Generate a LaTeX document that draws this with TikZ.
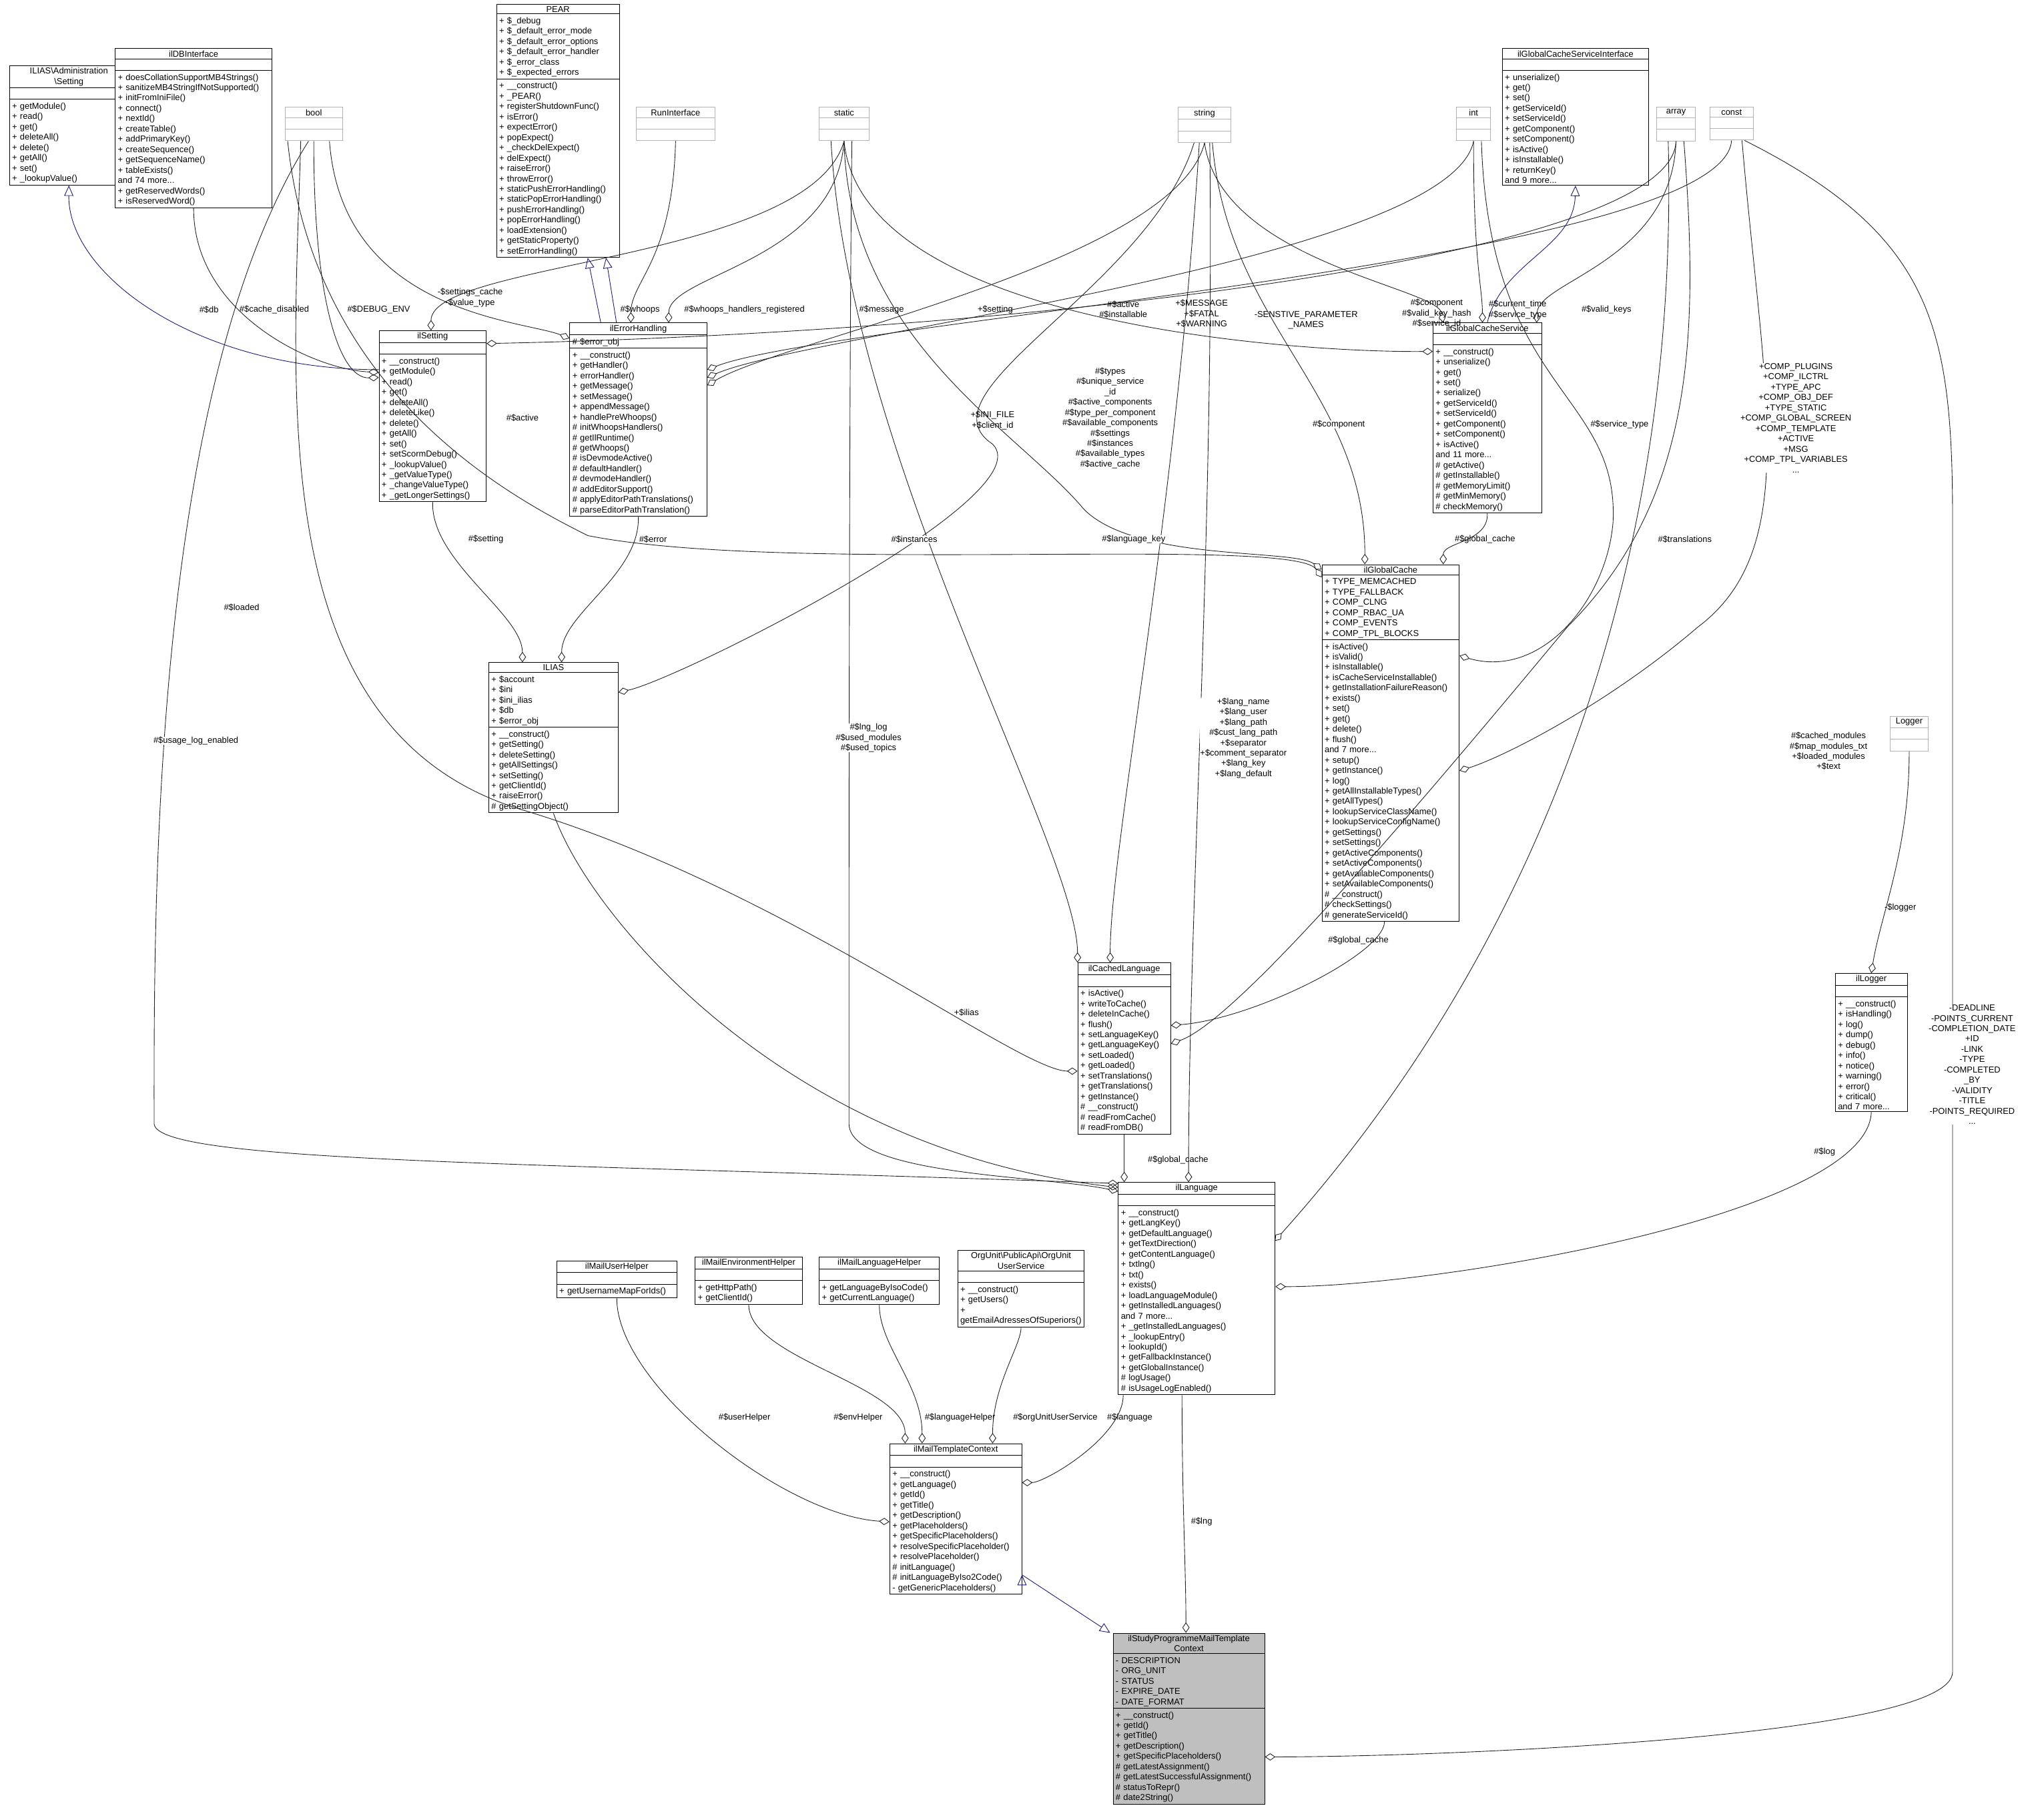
\documentclass[tikz,border=0pt]{standalone}
\usepackage{fontspec}
\setmainfont{Liberation Sans}
\usetikzlibrary{shapes.multipart,arrows.meta}
\definecolor{navy}{RGB}{25,25,112}
\tikzset{
  cls/.style={draw=black,rectangle split,rectangle split parts=3,anchor=north west,inner xsep=2pt,inner ysep=1.2pt,font=\fontsize{6.6}{7.9}\selectfont,fill=white,line width=0.5pt},
  gcls/.style={cls,draw=gray!60},
  hl/.style={cls,fill=gray!50},
  agg/.style={draw=gray!25!black,line width=0.45pt,-{Diamond[open,length=8pt,width=5.5pt]}},
  inh/.style={draw=navy,line width=0.45pt,-{Triangle[open,length=8pt,width=7pt]}},
  lbl/.style={font=\fontsize{6.6}{7.9}\selectfont,align=center,inner sep=0pt}
}
\newcommand\cls[8][cls]{\node[#1,text width=#4pt-4pt] (#2) at (#3) {\centering #5\par\nodepart{two}\raggedright\rule{0pt}{6pt}#6\par\nodepart{three}\raggedright\rule{0pt}{6pt}#7\par};}
\begin{document}
\begin{tikzpicture}[x=1pt,y=-1pt]
\useasboundingbox (0,0) rectangle (1565,1390);
% classes
\cls{adm}{7,50}{91}{ILIAS\textbackslash Administration\\\textbackslash Setting}{}{+ getModule()\\+ read()\\+ get()\\+ deleteAll()\\+ delete()\\+ getAll()\\+ set()\\+ \_lookupValue()}{}
\cls{db}{88,37}{120}{ilDBInterface}{}{+ doesCollationSupportMB4Strings()\\+ sanitizeMB4StringIfNotSupported()\\+ initFromIniFile()\\+ connect()\\+ nextId()\\+ createTable()\\+ addPrimaryKey()\\+ createSequence()\\+ getSequenceName()\\+ tableExists()\\and 74 more...\\+ getReservedWords()\\+ isReservedWord()}{}
\cls[gcls]{bool}{218,82}{44}{bool}{}{}{}
\cls{pear}{380,3}{94}{PEAR}{+ \$\_debug\\+ \$\_default\_error\_mode\\+ \$\_default\_error\_options\\+ \$\_default\_error\_handler\\+ \$\_error\_class\\+ \$\_expected\_errors}{+ \_\_construct()\\+ \_PEAR()\\+ registerShutdownFunc()\\+ isError()\\+ expectError()\\+ popExpect()\\+ \_checkDelExpect()\\+ delExpect()\\+ raiseError()\\+ throwError()\\+ staticPushErrorHandling()\\+ staticPopErrorHandling()\\+ pushErrorHandling()\\+ popErrorHandling()\\+ loadExtension()\\+ getStaticProperty()\\+ setErrorHandling()}{}
\cls[gcls]{run}{487,82}{60}{RunInterface}{}{}{}
\cls[gcls]{static}{627,82}{38}{static}{}{}{}
\cls[gcls]{string}{902,82}{40}{string}{}{}{}
\cls[gcls]{int}{1115,82}{26}{int}{}{}{}
\cls{gcsi}{1150,37}{112}{ilGlobalCacheServiceInterface}{}{+ unserialize()\\+ get()\\+ set()\\+ getServiceId()\\+ setServiceId()\\+ getComponent()\\+ setComponent()\\+ isActive()\\+ isInstallable()\\+ returnKey()\\and 9 more...}{}
\cls[gcls]{array}{1268,82}{30}{array}{}{}{}
\cls[gcls]{const}{1309,82}{33}{const}{}{}{}
\cls{set}{290,253}{82}{ilSetting}{}{+ \_\_construct()\\+ getModule()\\+ read()\\+ get()\\+ deleteAll()\\+ deleteLike()\\+ delete()\\+ getAll()\\+ set()\\+ setScormDebug()\\+ \_lookupValue()\\+ \_getValueType()\\+ \_changeValueType()\\+ \_getLongerSettings()}{}
\cls{err}{436,247}{105}{ilErrorHandling}{\# \$error\_obj}{+ \_\_construct()\\+ getHandler()\\+ errorHandler()\\+ getMessage()\\+ setMessage()\\+ appendMessage()\\+ handlePreWhoops()\\\# initWhoopsHandlers()\\\# getIlRuntime()\\\# getWhoops()\\\# isDevmodeActive()\\\# defaultHandler()\\\# devmodeHandler()\\\# addEditorSupport()\\\# applyEditorPathTranslations()\\\# parseEditorPathTranslation()}{}
\cls{gcs}{1097,247}{83}{ilGlobalCacheService}{}{+ \_\_construct()\\+ unserialize()\\+ get()\\+ set()\\+ serialize()\\+ getServiceId()\\+ setServiceId()\\+ getComponent()\\+ setComponent()\\+ isActive()\\and 11 more...\\\# getActive()\\\# getInstallable()\\\# getMemoryLimit()\\\# getMinMemory()\\\# checkMemory()}{}
\cls{gc}{1012,432}{105}{ilGlobalCache}{+ TYPE\_MEMCACHED\\+ TYPE\_FALLBACK\\+ COMP\_CLNG\\+ COMP\_RBAC\_UA\\+ COMP\_EVENTS\\+ COMP\_TPL\_BLOCKS}{+ isActive()\\+ isValid()\\+ isInstallable()\\+ isCacheServiceInstallable()\\+ getInstallationFailureReason()\\+ exists()\\+ set()\\+ get()\\+ delete()\\+ flush()\\and 7 more...\\+ setup()\\+ getInstance()\\+ log()\\+ getAllInstallableTypes()\\+ getAllTypes()\\+ lookupServiceClassName()\\+ lookupServiceConfigName()\\+ getSettings()\\+ setSettings()\\+ getActiveComponents()\\+ setActiveComponents()\\+ getAvailableComponents()\\+ setAvailableComponents()\\\# \_\_construct()\\\# checkSettings()\\\# generateServiceId()}{}
\cls{ilias}{374,507}{99}{ILIAS}{+ \$account\\+ \$ini\\+ \$ini\_ilias\\+ \$db\\+ \$error\_obj}{+ \_\_construct()\\+ getSetting()\\+ deleteSetting()\\+ getAllSettings()\\+ setSetting()\\+ getClientId()\\+ raiseError()\\\# getSettingObject()}{}
\cls{cl}{825,737}{71}{ilCachedLanguage}{}{+ isActive()\\+ writeToCache()\\+ deleteInCache()\\+ flush()\\+ setLanguageKey()\\+ getLanguageKey()\\+ setLoaded()\\+ getLoaded()\\+ setTranslations()\\+ getTranslations()\\+ getInstance()\\\# \_\_construct()\\\# readFromCache()\\\# readFromDB()}{}
\cls[gcls]{logger}{1447,548}{29}{Logger}{}{}{}
\cls{ill}{1405,745}{55}{ilLogger}{}{+ \_\_construct()\\+ isHandling()\\+ log()\\+ dump()\\+ debug()\\+ info()\\+ notice()\\+ warning()\\+ error()\\+ critical()\\and 7 more...}{}
\cls{lang}{856,905}{120}{ilLanguage}{}{+ \_\_construct()\\+ getLangKey()\\+ getDefaultLanguage()\\+ getTextDirection()\\+ getContentLanguage()\\+ txtlng()\\+ txt()\\+ exists()\\+ loadLanguageModule()\\+ getInstalledLanguages()\\and 7 more...\\+ \_getInstalledLanguages()\\+ \_lookupEntry()\\+ lookupId()\\+ getFallbackInstance()\\+ getGlobalInstance()\\\# logUsage()\\\# isUsageLogEnabled()}{}
\cls{muh}{426,965}{92}{ilMailUserHelper}{}{+ getUsernameMapForIds()}{}
\cls{meh}{532,962}{82}{ilMailEnvironmentHelper}{}{+ getHttpPath()\\+ getClientId()}{}
\cls{mlh}{627,962}{92}{ilMailLanguageHelper}{}{+ getLanguageByIsoCode()\\+ getCurrentLanguage()}{}
\cls{org}{733,957}{97}{OrgUnit\textbackslash PublicApi\textbackslash OrgUnit\\UserService}{}{+ \_\_construct()\\+ getUsers()\\+ getEmailAdressesOfSuperiors()}{}
\cls{mtc}{681,1105}{101}{ilMailTemplateContext}{}{+ \_\_construct()\\+ getLanguage()\\+ getId()\\+ getTitle()\\+ getDescription()\\+ getPlaceholders()\\+ getSpecificPlaceholders()\\+ resolveSpecificPlaceholder()\\+ resolvePlaceholder()\\\# initLanguage()\\\# initLanguageByIso2Code()\\- getGenericPlaceholders()}{}
\cls[hl]{sp}{852,1250}{116}{ilStudyProgrammeMailTemplate\\Context}{- DESCRIPTION\\- ORG\_UNIT\\- STATUS\\- EXPIRE\_DATE\\- DATE\_FORMAT}{+ \_\_construct()\\+ getId()\\+ getTitle()\\+ getDescription()\\+ getSpecificPlaceholders()\\\# getLatestAssignment()\\\# getLatestSuccessfulAssignment()\\\# statusToRepr()\\\# date2String()}{}

% inheritance
\draw[inh] ([yshift=-30pt]set.north west) .. controls (150,283) and (52,210) .. (adm.south);
\draw[inh] (460,247 |- err.north) -- (450,225 |- pear.south);
\draw[inh] (472,247 |- err.north) -- (464,225 |- pear.south);
\draw[inh] (gcs.north) .. controls (1150,200) and (1205,190) .. (gcsi.south);
\draw[inh] (mtc.south east) ++(0,-15) coordinate (m1);
\draw[inh] (m1) -- ([xshift=-2pt]sp.north west);

% ilSetting
\draw[agg] (db.south) .. controls (148,240) and (240,283) .. ([yshift=-32pt]set.north west);
\node[lbl] at (160,237) {\#\$db};
\draw[agg] (bool.south) .. controls (240,230) and (260,290) .. ([yshift=-36pt]set.north west);
\node[lbl] at (210,237) {\#\$cache\_disabled};
\draw[agg] (static.south) .. controls (620,200) and (330,200) .. (330,0 |- set.north);
\node[lbl] at (360,228) {-\$settings\_cache\\-\$value\_type};
\draw[agg] (array.south) .. controls (1280,200) and (760,255) .. ([yshift=-10pt]set.north east);
\node[lbl] at (762,237) {+\$setting};
% ilErrorHandling
\draw[agg] ([xshift=12pt]bool.south) .. controls (262,240) and (400,245) .. ([yshift=-12pt]err.north west);
\node[lbl] at (290,237) {\#\$DEBUG\_ENV};
\draw[agg] (run.south) .. controls (515,200) and (483,215) .. (483,0 |- err.north);
\node[lbl] at (490,237) {\#\$whoops};
\draw[agg] (static.south) .. controls (640,200) and (512,210) .. (512,0 |- err.north);
\node[lbl] at (570,237) {\#\$whoops\_handlers\_registered};
\draw[agg] (string.south) .. controls (900,200) and (600,260) .. ([yshift=-48pt]err.north east);
\node[lbl] at (675,237) {\#\$message};
\draw[agg] (int.south) .. controls (1110,200) and (620,255) .. ([yshift=-42pt]err.north east);
\node[lbl] at (920,240) {+\$MESSAGE\\+\$FATAL\\+\$WARNING};
\draw[agg] (const.south) .. controls (1320,200) and (640,245) .. ([yshift=-36pt]err.north east);
\node[lbl] at (1000,245) {-SENSTIVE\_PARAMETER\\\_NAMES};
% ILIAS
\draw[agg] (set.south) .. controls (330,430) and (400,470) .. (400,0 |- ilias.north);
\node[lbl] at (372,413) {\#\$setting};
\draw[agg] (err.south) .. controls (490,440) and (430,470) .. (430,0 |- ilias.north);
\node[lbl] at (500,413) {\#\$error};
\draw[agg] ([xshift=-8pt]string.south) .. controls (880,220) and (700,300) .. (760,340) .. controls (800,380) and (520,520) .. ([yshift=-23pt]ilias.north east);
\node[lbl] at (760,322) {+\$INI\_FILE\\+\$client\_id};
% ilGlobalCacheService
\draw[agg] (static.south) .. controls (660,250) and (1000,270) .. ([yshift=-22pt]gcs.north west);
\node[lbl] at (860,237) {\#\$active\\\#\$installable};
\draw[agg] (string.south) .. controls (935,200) and (1100,220) .. ([xshift=8pt]gcs.north west);
\node[lbl] at (1100,240) {\#\$component\\\#\$valid\_key\_hash\\\#\$service\_id};
\draw[agg] (int.south) .. controls (1128,200) and (1135,220) .. (1135,0 |- gcs.north);
\node[lbl] at (1162,237) {\#\$current\_time\\\#\$service\_type};
\draw[agg] (array.south) .. controls (1280,200) and (1178,215) .. ([xshift=-4pt]gcs.north east);
\node[lbl] at (1230,237) {\#\$valid\_keys};
% ilGlobalCache
\draw[agg] (gcs.south) .. controls (1140,415) and (1105,415) .. (1105,0 |- gc.north);
\node[lbl] at (1137,413) {\#\$global\_cache};
\draw[agg] (static.south) .. controls (650,260) and (780,330) .. (830,390) .. controls (870,430) and (990,420) .. ([yshift=-4pt]gc.north west);
\node[lbl] at (850,320) {\#\$types\\\#\$unique\_service\\\_id\\\#\$active\_components\\\#\$type\_per\_component\\\#\$available\_components\\\#\$settings\\\#\$instances\\\#\$available\_types\\\#\$active\_cache};
\draw[agg] ([xshift=6pt]string.south) .. controls (940,250) and (1045,300) .. (1045,0 |- gc.north);
\node[lbl,fill=white] at (1025,325) {\#\$component};
\draw[agg] ([xshift=6pt]int.south) .. controls (1140,300) and (1240,300) .. (1235,400) .. controls (1230,460) and (1180,520) .. ([yshift=-70pt]gc.north east);
\node[lbl,fill=white] at (1240,325) {\#\$service\_type};
\draw[agg] ([xshift=-20pt]bool.south) .. controls (240,300) and (390,380) .. (450,410) .. controls (600,440) and (990,410) .. ([yshift=-10pt]gc.north west);
\node[lbl,fill=white] at (400,320) {\#\$active};
\draw[agg] ([xshift=8pt]const.south) .. controls (1350,300) and (1380,420) .. (1300,480) .. controls (1230,540) and (1150,580) .. ([yshift=-158pt]gc.north east);
\node[lbl,fill=white] at (1375,320) {+COMP\_PLUGINS\\+COMP\_ILCTRL\\+TYPE\_APC\\+COMP\_OBJ\_DEF\\+TYPE\_STATIC\\+COMP\_GLOBAL\_SCREEN\\+COMP\_TEMPLATE\\+ACTIVE\\+MSG\\+COMP\_TPL\_VARIABLES\\...};
% ilCachedLanguage
\draw[agg] ([xshift=48pt]gc.south west) .. controls (1060,730) and (960,780) .. ([yshift=-48pt]cl.north east);
\node[lbl] at (1040,720) {\#\$global\_cache};
\draw[agg] ([xshift=-10pt]static.south) .. controls (650,350) and (825,650) .. (825,0 |- cl.north);
\node[lbl,fill=white] at (700,413) {\#\$instances};
\draw[agg] ([xshift=-4pt]string.south) .. controls (900,400) and (850,650) .. (850,0 |- cl.north);
\node[lbl,fill=white] at (868,413) {\#\$language\_key};
\draw[agg] ([xshift=-10pt]bool.south) .. controls (225,300) and (200,560) .. (400,620) .. controls (600,680) and (780,820) .. ([yshift=-83pt]cl.north west);
\node[lbl,fill=white] at (185,465) {\#\$loaded};
\draw[agg] ([xshift=6pt]array.south) .. controls (1300,250) and (1300,380) .. (1200,480) .. controls (1100,600) and (950,780) .. ([yshift=-62pt]cl.north east);
\node[lbl,fill=white] at (1290,413) {\#\$translations};
% ilLanguage
\draw[agg] (cl.south) -- (cl.south |- lang.north);
\node[lbl] at (902,888) {\#\$global\_cache};
\draw[agg] (ilias.south) .. controls (450,700) and (600,880) .. ([yshift=-4pt]lang.north west);
\node[lbl] at (740,775) {+\$ilias};
\draw[agg] ([xshift=-4pt]bool.south) .. controls (115,300) and (118,700) .. (118,860) .. controls (118,890) and (400,890) .. ([yshift=-1pt]lang.north west);
\node[lbl,fill=white] at (150,567) {\#\$usage\_log\_enabled};
\draw[agg] ([xshift=6pt]static.south) .. controls (650,300) and (650,700) .. (650,860) .. controls (650,900) and (800,900) .. ([yshift=-7pt]lang.north west);
\node[lbl,fill=white] at (665,565) {\#\$lng\_log\\\#\$used\_modules\\\#\$used\_topics};
\draw[agg] ([xshift=4pt]string.south) .. controls (930,400) and (910,700) .. (910,0 |- lang.north);
\node[lbl,fill=white] at (952,565) {+\$lang\_name\\+\$lang\_user\\+\$lang\_path\\\#\$cust\_lang\_path\\+\$separator\\+\$comment\_separator\\+\$lang\_key\\+\$lang\_default};
\draw[agg] ([xshift=-6pt]array.south) .. controls (1285,400) and (1200,700) .. (976,950);
\node[lbl,fill=white] at (1400,575) {\#\$cached\_modules\\\#\$map\_modules\_txt\\+\$loaded\_modules\\+\$text};
\draw[agg] (ill.south) .. controls (1430,930) and (1100,985) .. ([yshift=-80pt]lang.north east);
\node[lbl] at (1397,882) {\#\$log};
\draw[agg] (logger.south) .. controls (1462,650) and (1440,700) .. (ill.north);
\node[lbl] at (1455,695) {-\$logger};
% ilMailTemplateContext
\draw[agg] (muh.south) .. controls (472,1060) and (600,1160) .. ([yshift=-60pt]mtc.north west);
\node[lbl] at (570,1085) {\#\$userHelper};
\draw[agg] (meh.south) .. controls (573,1040) and (693,1060) .. (693,0 |- mtc.north);
\node[lbl] at (657,1085) {\#\$envHelper};
\draw[agg] (mlh.south) .. controls (673,1030) and (706,1060) .. (706,0 |- mtc.north);
\node[lbl] at (735,1085) {\#\$languageHelper};
\draw[agg] (org.south) .. controls (782,1030) and (760,1060) .. (760,0 |- mtc.north);
\node[lbl] at (808,1085) {\#\$orgUnitUserService};
\draw[agg] ([xshift=4pt]lang.south west) .. controls (860,1100) and (800,1135) .. ([yshift=-30pt]mtc.north east);
\node[lbl] at (865,1085) {\#\$language};
% ilStudyProgramme
\draw[agg] (905,0 |- lang.south) .. controls (905,1150) and (908,1200) .. (908,0 |- sp.north);
\node[lbl] at (920,1165) {\#\$lng};
\draw[agg] ([xshift=10pt]const.south) .. controls (1480,180) and (1495,250) .. (1495,400) -- (1495,1280) .. controls (1495,1330) and (1100,1345) .. ([yshift=-95pt]sp.north east);
\node[lbl,fill=white] at (1510,815) {-DEADLINE\\-POINTS\_CURRENT\\-COMPLETION\_DATE\\+ID\\-LINK\\-TYPE\\-COMPLETED\\\_BY\\-VALIDITY\\-TITLE\\-POINTS\_REQUIRED\\...};
\end{tikzpicture}
\end{document}
